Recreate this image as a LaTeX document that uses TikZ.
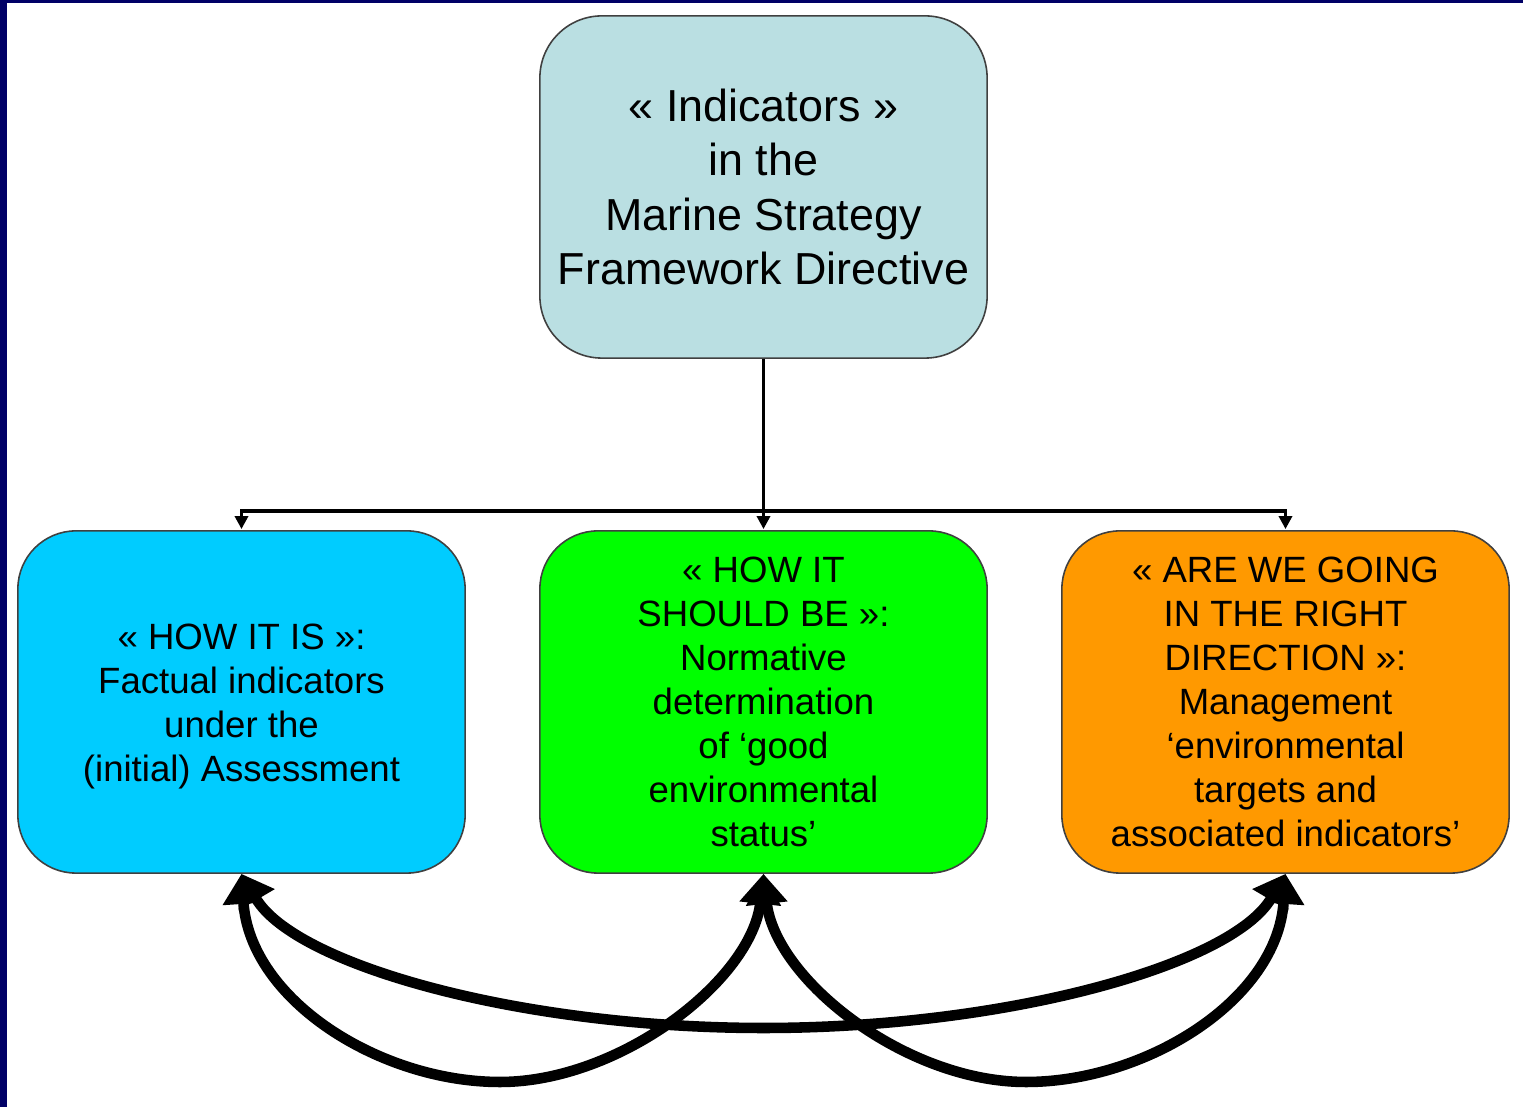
\documentclass[tikz,border=0pt]{standalone}
\usepackage{fontspec}
\setmainfont{Liberation Sans}
\usetikzlibrary{arrows.meta}
\definecolor{navy}{HTML}{000066}
\definecolor{topfill}{HTML}{BADFE2}
\definecolor{cyanfill}{HTML}{00CCFF}
\definecolor{greenfill}{HTML}{00FF00}
\definecolor{orangefill}{HTML}{FF9900}
\definecolor{edgegrey}{HTML}{404040}
\tikzset{
  box/.style={draw=edgegrey, line width=0.45pt, rounded corners=0.58cm,
    minimum width=4.47cm, minimum height=3.42cm, inner sep=0pt, align=center,
    font=\fontsize{10.4}{12.5}\selectfont},
  thin arrow/.style={line width=0.95pt, -{Triangle[length=1.3mm,width=1.3mm]}},
  thick arrow/.style={line width=3pt, {Triangle[length=3mm,width=4mm]}-{Triangle[length=3mm,width=4mm]}}
}
\begin{document}
\begin{tikzpicture}[x=0.01cm,y=-0.01cm]
\useasboundingbox (0,0) rectangle (1523,1107);
\fill[navy] (0,0) rectangle (1523,1107);
\fill[white] (7,3) rectangle (1523,1107);

\node[box, fill=topfill, rounded corners=0.62cm, font=\fontsize{12.75}{15.4}\selectfont] (top) at (763.5,187)
  {« Indicators »\\in the\\Marine Strategy\\Framework Directive};
\node[box, fill=cyanfill] (left) at (241.5,702)
  {\rule{0pt}{10pt}« HOW IT IS »:\\Factual indicators\\under the\\(initial) Assessment};
\node[box, fill=greenfill] (mid) at (763.5,702)
  {« HOW IT\\SHOULD BE »:\\Normative\\determination\\of ‘good\\environmental\\status’};
\node[box, fill=orangefill] (right) at (1285.5,702)
  {« ARE WE GOING\\IN THE RIGHT\\DIRECTION »:\\Management\\‘environmental\\targets and\\associated indicators’};

\coordinate (j) at (763.5,511);
\draw[thin arrow] (top.south) -- ([yshift=0.01cm]mid.north);
\draw[thin arrow] (j) -| ([yshift=0.01cm]left.north);
\draw[thin arrow] (j) -| ([yshift=0.01cm]right.north);

\coordinate (aBot) at (500,1082);
\coordinate (bBot) at (1026,1082);
\coordinate (cBot) at (763.5,1028);
\draw[thick arrow] (left.south) .. controls (250,1000) and (380,1082) .. (aBot)
  .. controls (620,1082) and (752,980) .. (mid.south);
\draw[thick arrow] (mid.south) .. controls (775,980) and (906,1082) .. (bBot)
  .. controls (1146,1082) and (1277,1000) .. (right.south);
\draw[thick arrow] (left.south) .. controls (295,965) and (520,1028) .. (cBot)
  .. controls (1007,1028) and (1232,965) .. (right.south);
\end{tikzpicture}
\end{document}
